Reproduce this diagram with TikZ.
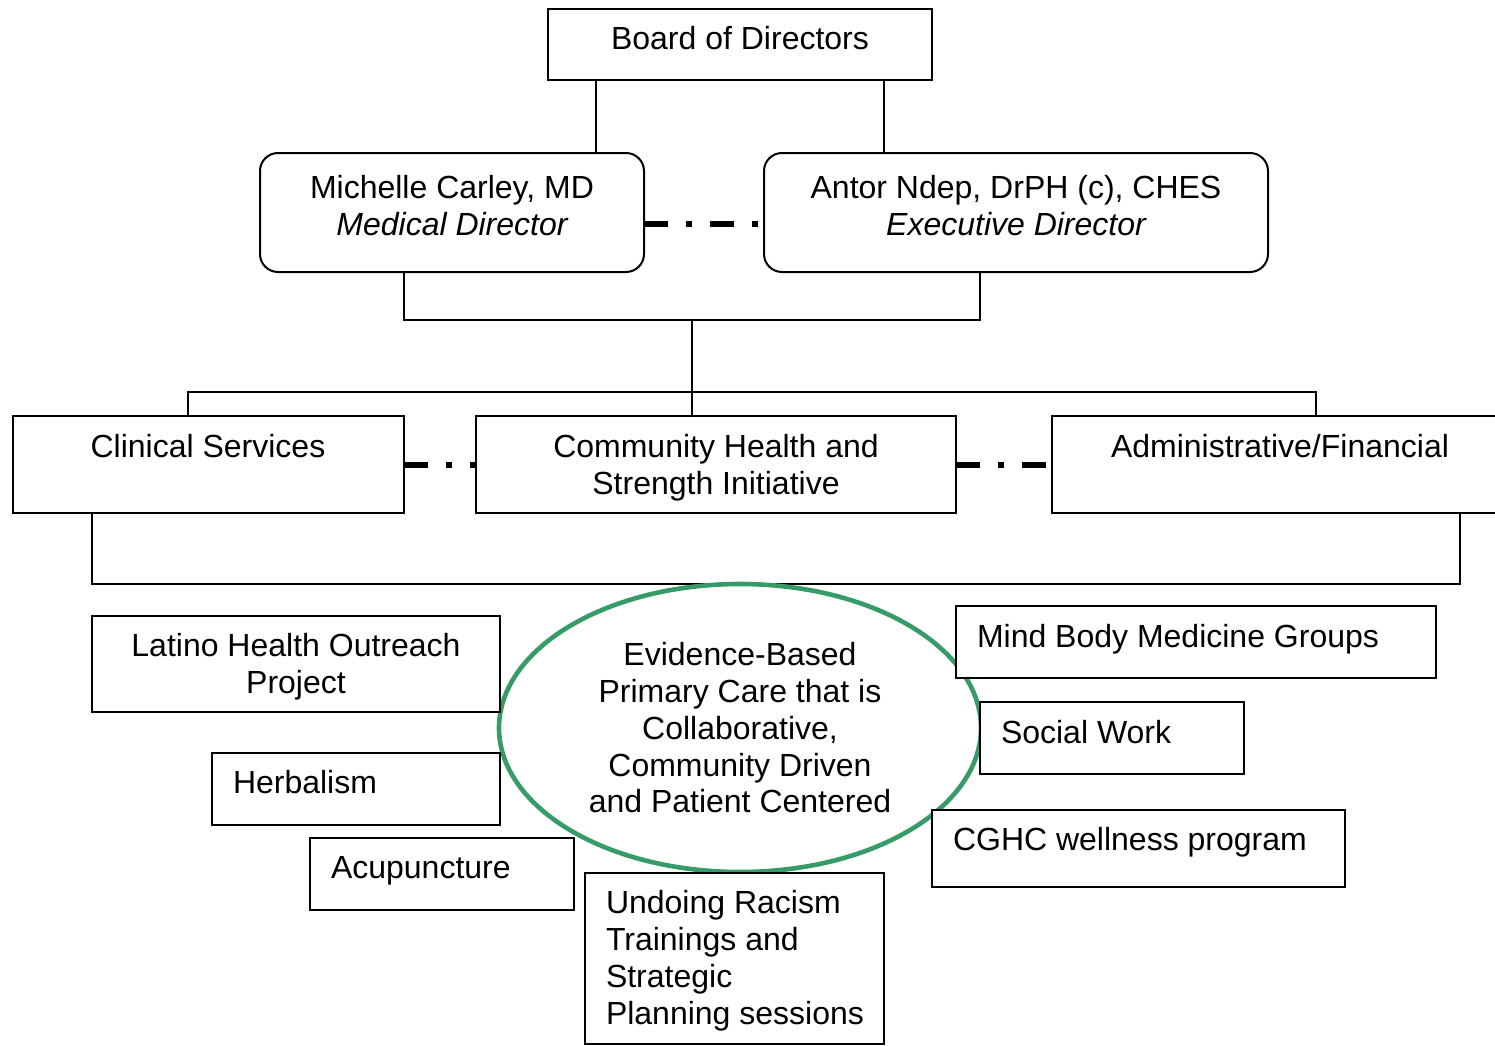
\documentclass[tikz,border=0pt]{standalone}
\usepackage{fontspec}
\setmainfont{Liberation Sans}
\usetikzlibrary{shapes.geometric}
\definecolor{ellgreen}{RGB}{55,155,104}
\tikzset{
  box/.style={draw=black, line width=1pt, fill=white, rectangle, inner sep=0pt, outer sep=0pt, anchor=north west},
  rbox/.style={box, rounded corners=9pt},
  txt/.style={inner sep=0pt, outer sep=0pt, font=\fontsize{16}{18.4}\selectfont},
  ctxt/.style={txt, align=center, anchor=north},
  ltxt/.style={txt, align=left, anchor=north west},
  link/.style={draw=black, line width=1pt},
  dashdot/.style={draw=black, line width=3pt, dash pattern=on 12pt off 9pt on 3pt off 9pt},
}
\begin{document}
\begin{tikzpicture}[x=0.5pt,y=-0.5pt]
\useasboundingbox (0,0) rectangle (1495,1045);
\fill[white] (0,0) rectangle (1495,1045);

% top boxes
\node[box, minimum width=192pt, minimum height=35.5pt] (board) at (548,9) {};
\node[ctxt] (tboard) at (740,26.5) {Board of Directors};
\node[rbox, minimum width=192pt, minimum height=59.5pt] (mc) at (260,153) {};
\node[ctxt] (tmc) at (452,175.5) {Michelle Carley, MD\\\itshape Medical Director};
\node[rbox, minimum width=252pt, minimum height=59.5pt] (ed) at (764,153) {};
\node[ctxt] (ted) at (1016,175.5) {Antor Ndep, DrPH (c), CHES\\\itshape Executive Director};

% middle row
\node[box, minimum width=195.5pt, minimum height=48.5pt] (cs) at (13,416) {};
\node[ctxt] (tcs) at (208,434.5) {Clinical Services};
\node[box, minimum width=240pt, minimum height=48.5pt] (chs) at (476,416) {};
\node[ctxt] (tchs) at (716,434.5) {Community Health and\\Strength Initiative};
\node[box, minimum width=230pt, minimum height=48.5pt] (af) at (1052,416) {};
\node[ctxt] (taf) at (1280,434.5) {Administrative/Financial};

% connector coordinates
\coordinate (b1) at (596,0);
\coordinate (b2) at (884,0);
\coordinate (m1) at (404,320);
\coordinate (m2) at (980,320);
\coordinate (m3) at (692,320);
\coordinate (h1) at (188,392);
\coordinate (h2) at (1316,392);
\coordinate (l1) at (92,584);
\coordinate (l2) at (1460,584);
\coordinate (d1) at (0,224);

\draw[link] (board.south -| b1) -- (mc.north -| b1);
\draw[link] (board.south -| b2) -- (ed.north -| b2);
\draw[link] (mc.south -| m1) -- (m1) -- (m2) -- (ed.south -| m2);
\draw[link] (m3) -- (chs.north -| m3);
\draw[link] (cs.north -| h1) -- (h1) -- (h2) -- (af.north -| h2);
\draw[link] (cs.south -| l1) -- (l1) -- (l2) -- (af.south -| l2);

\draw[dashdot] (mc.east |- d1) -- (ed.west |- d1);
\draw[dashdot] (cs.east) -- (chs.west);
\draw[dashdot] (chs.east) -- (af.west);

% central ellipse
\node[ellipse, draw=ellgreen, line width=2.3pt, fill=white, inner sep=0pt, outer sep=0pt,
      minimum width=241pt, minimum height=144pt] (ebpc) at (740,728) {};
\node[ctxt] (tebpc) at (740,642.5) {Evidence-Based\\Primary Care that is\\Collaborative,\\Community Driven\\and Patient Centered};

% lower boxes
\node[box, minimum width=204pt, minimum height=48pt] (lho) at (92,616) {};
\node[ctxt] (tlho) at (296,633.5) {Latino Health Outreach\\Project};
\node[box, minimum width=144pt, minimum height=36pt] (herb) at (212,753) {};
\node[ltxt] (therb) at (233,770.5) {Herbalism};
\node[box, minimum width=132pt, minimum height=36pt] (acu) at (310,838) {};
\node[ltxt] (tacu) at (331,856.5) {Acupuncture};
\node[box, minimum width=149.5pt, minimum height=85.5pt] (urt) at (585,873) {};
\node[ltxt] (turt) at (606,890.5) {Undoing Racism\\Trainings and\\Strategic\\Planning sessions};
\node[box, minimum width=240pt, minimum height=36pt] (mbm) at (956,606) {};
\node[ltxt] (tmbm) at (977,624.5) {Mind Body Medicine Groups};
\node[box, minimum width=132pt, minimum height=36pt] (sw) at (980,702) {};
\node[ltxt] (tsw) at (1001,720.5) {Social Work};
\node[box, minimum width=206.5pt, minimum height=38.5pt] (cghc) at (932,810) {};
\node[ltxt] (tcghc) at (953,827.5) {CGHC wellness program};
\end{tikzpicture}
\end{document}
